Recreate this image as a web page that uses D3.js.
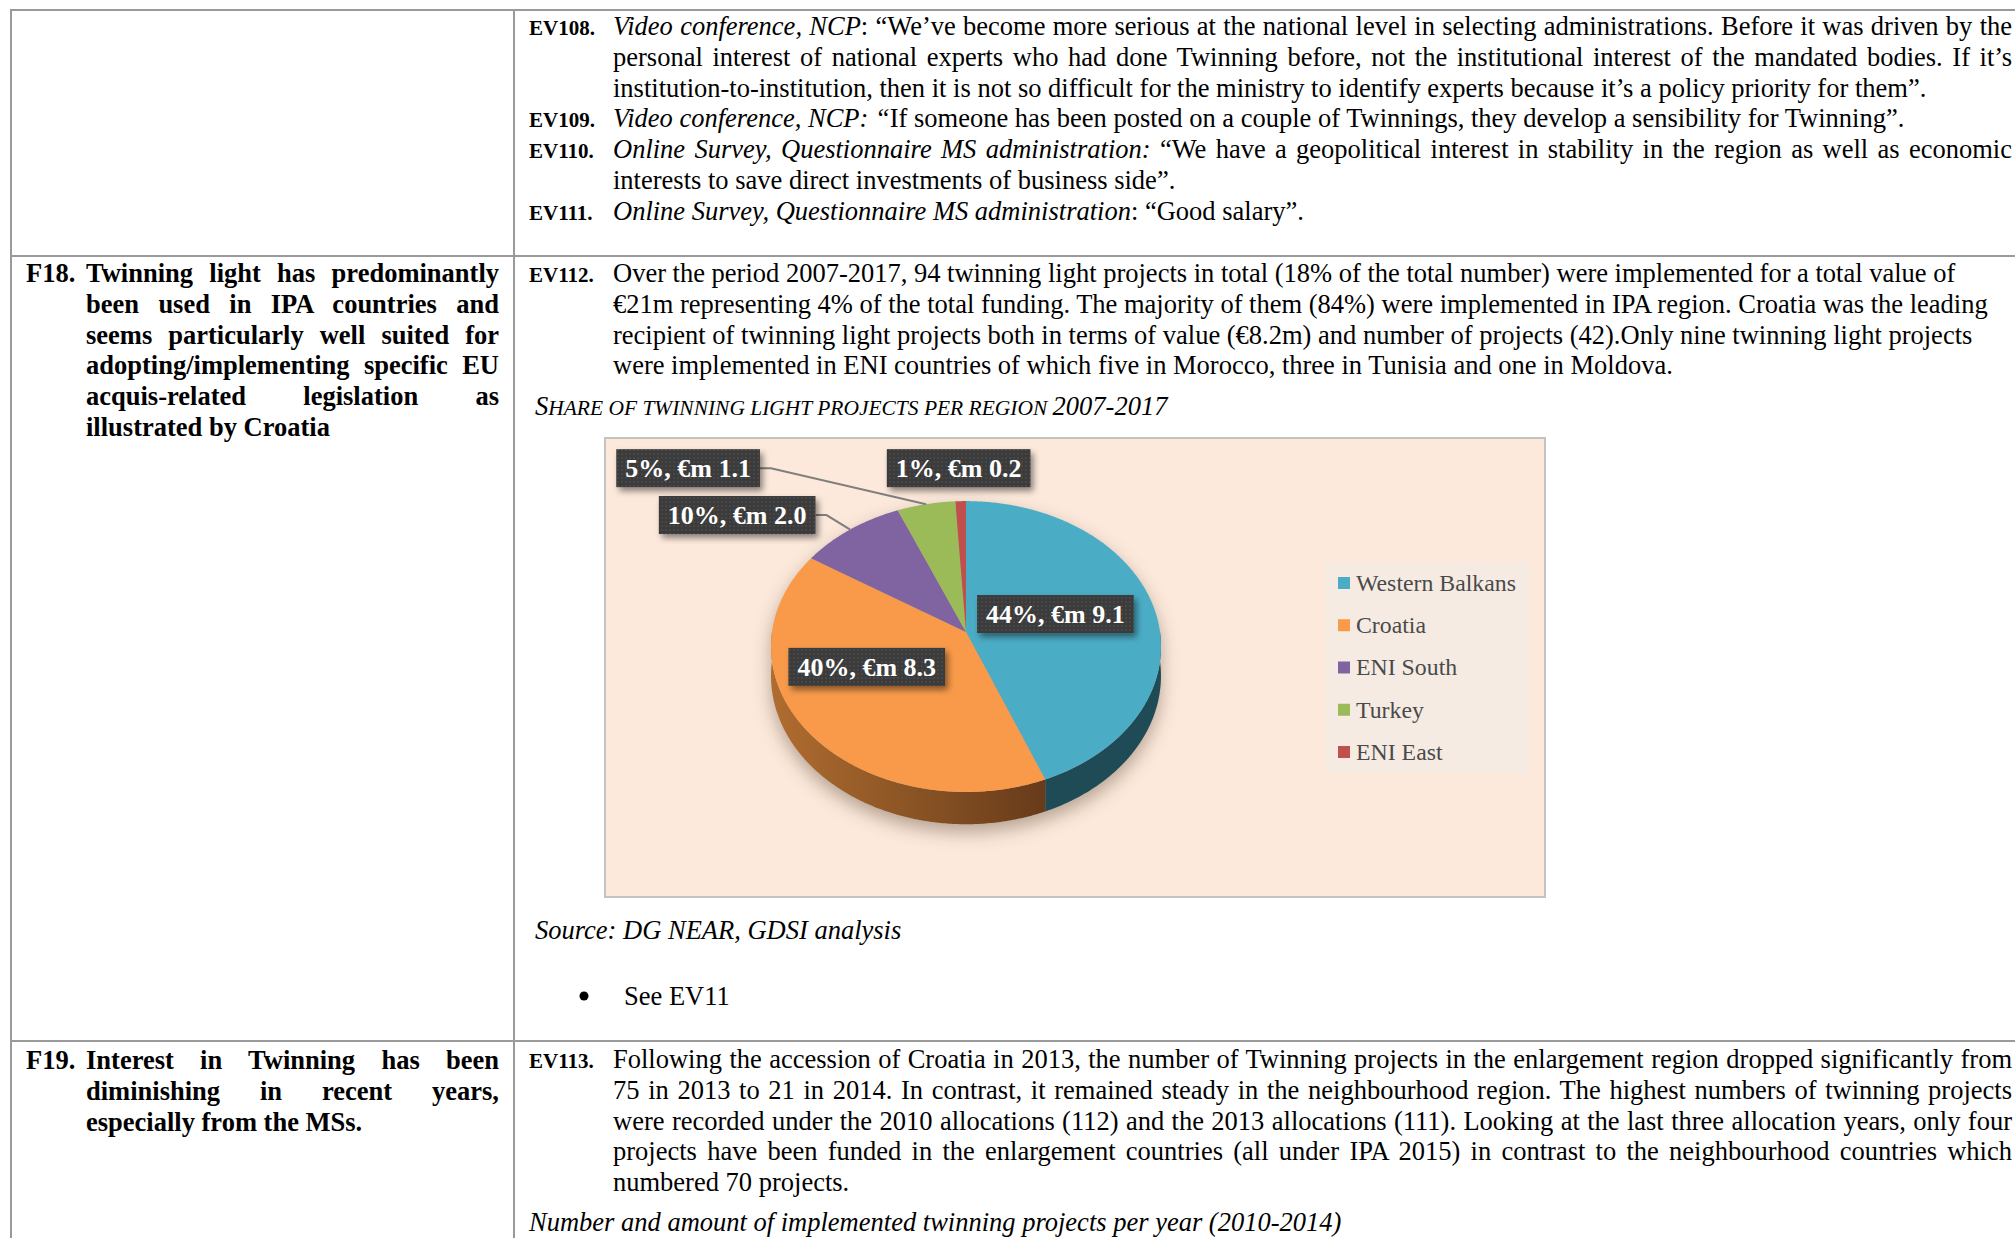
<!DOCTYPE html>
<html>
<head>
<meta charset="utf-8">
<script src="https://cdn.jsdelivr.net/npm/d3@7"></script>
<style>
  html, body { margin: 0; padding: 0; background: #fff; }
  svg { display: block; }
  text { font-family: "Liberation Serif", "Times New Roman", serif; white-space: pre; }
</style>
</head>
<body>
<div id="page"></div>
<script>
// ---- chart data ----
const regions = ["Western Balkans", "Croatia", "ENI South", "Turkey", "ENI East"];
const amounts = [9.1, 8.3, 2.0, 1.1, 0.2];          // €m
const sliceColors = ["#4bacc6", "#f89a4a", "#8064a2", "#9bbb59", "#c0504d"];
const sideColors = ["#1f4b57", "url(#orangeSide)", "#4a3a5e", "#5a6e33", "#702f2d"];

// label placement: inside labels sit near the slice centroid, outside ones hang off the rim
const labelLayout = [
    { anchor: "inside", dx: -5, dy: -4.5 },
    { anchor: "inside", dx: -22, dy: -12.5 },
    { anchor: "rim", dx: -113, dy: -14.5, leader: true },
    { anchor: "rim", dx: -238, dy: -36, leader: true },
    { anchor: "rim", dx: -2, dy: -33, leader: false }
];

// ---- document text ----
const row1Lines = [
    { label: "EV108.", parts: [["i", "Video conference, NCP"], ["r", ": “We’ve become more serious at the national level in selecting administrations. Before it was driven by the"]], justify: true },
    { parts: [["r", "personal interest of national experts who had done Twinning before, not the institutional interest of the mandated bodies. If it’s"]], justify: true },
    { parts: [["r", "institution-to-institution, then it is not so difficult for the ministry to identify experts because it’s a policy priority for them”."]] },
    { label: "EV109.", parts: [["i", "Video conference, NCP: “"], ["r", "If someone has been posted on a couple of Twinnings, they develop a sensibility for Twinning”."]] },
    { label: "EV110.", parts: [["i", "Online Survey, Questionnaire MS administration:"], ["r", " “We have a geopolitical interest in stability in the region as well as economic"]], justify: true },
    { parts: [["r", "interests to save direct investments of business side”."]] },
    { label: "EV111.", parts: [["i", "Online Survey, Questionnaire MS administration"], ["r", ": “Good salary”."]] }
];
const f18Lines = [
    "Twinning light has predominantly",
    "been used in IPA countries and",
    "seems particularly well suited for",
    "adopting/implementing specific EU",
    "acquis-related legislation as",
    "illustrated by Croatia"
];
const ev112Lines = [
    "Over the period 2007-2017, 94 twinning light projects in total (18% of the total number) were implemented for a total value of",
    "€21m representing 4% of the total funding. The majority of them (84%) were implemented in IPA region. Croatia was the leading",
    "recipient of twinning light projects both in terms of value (€8.2m) and number of projects (42).Only nine twinning light projects",
    "were implemented in ENI countries of which five in Morocco, three in Tunisia and one in Moldova."
];
const f19Lines = [
    "Interest in Twinning has been",
    "diminishing in recent years,",
    "especially from the MSs."
];
const ev113Lines = [
    "Following the accession of Croatia in 2013, the number of Twinning projects in the enlargement region dropped significantly from",
    "75 in 2013 to 21 in 2014. In contrast, it remained steady in the neighbourhood region. The highest numbers of twinning projects",
    "were recorded under the 2010 allocations (112) and the 2013 allocations (111). Looking at the last three allocation years, only four",
    "projects have been funded in the enlargement countries (all under IPA 2015) in contrast to the neighbourhood countries which",
    "numbered 70 projects."
];

// ---- page setup ----
const W = 2015, H = 1238;
const svg = d3.select("#page").append("svg").attr("width", W).attr("height", H);
const defs = svg.append("defs");

const bodySize = 26.5, lineGap = 30.8;
const labelX = 529, bodyX = 613, bodyRight = 2012;
const leftNumX = 26, leftX = 86, leftRight = 499;

// Draws one line of text; stretches word spacing when the line is justified
function textLine(g, x, y, parts, opts) {
    const t = g.append("text")
        .attr("x", x)
        .attr("y", y)
        .attr("font-size", opts.size || bodySize)
        .attr("font-weight", opts.bold ? "bold" : null)
        .attr("fill", "#000");
    parts.forEach(p => {
        t.append("tspan")
            .attr("font-style", p[0] === "i" ? "italic" : null)
            .text(p[1]);
    });
    if (opts.right) {
        const natural = t.node().getComputedTextLength();
        const gaps = (parts.map(p => p[1]).join("").match(/ /g) || []).length;
        if (gaps) t.style("word-spacing", ((opts.right - x - natural) / gaps) + "px");
    }
    return t;
}

const doc = svg.append("g");

// Table rules
const rules = doc.append("g").attr("stroke", "#9a9a9a").attr("stroke-width", 2);
rules.append("line").attr("x1", 11).attr("x2", W).attr("y1", 10).attr("y2", 10);
rules.append("line").attr("x1", 11).attr("x2", 11).attr("y1", 9).attr("y2", H);
rules.append("line").attr("x1", 514).attr("x2", 514).attr("y1", 9).attr("y2", H);
rules.append("line").attr("x1", 11).attr("x2", W).attr("y1", 256).attr("y2", 256);
rules.append("line").attr("x1", 11).attr("x2", W).attr("y1", 1041).attr("y2", 1041);

// Row 1 – evidence EV108-EV111
row1Lines.forEach((l, i) => {
    const y = 35 + i * lineGap;
    if (l.label) textLine(doc, labelX, y, [["r", l.label]], { bold: true, size: 21 });
    textLine(doc, bodyX, y, l.parts, { right: l.justify ? bodyRight : null });
});

// Row 2 – finding F18
textLine(doc, leftNumX, 282, [["r", "F18."]], { bold: true });
f18Lines.forEach((s, i) => {
    textLine(doc, leftX, 282 + i * lineGap, [["r", s]], { bold: true, right: i < f18Lines.length - 1 ? leftRight : null });
});
textLine(doc, labelX, 282, [["r", "EV112."]], { bold: true, size: 21 });
ev112Lines.forEach((s, i) => textLine(doc, bodyX, 282 + i * lineGap, [["r", s]], {}));

// chart caption in Word-style small caps
const cap = doc.append("text")
    .attr("x", 535).attr("y", 415)
    .attr("font-size", bodySize)
    .attr("font-style", "italic");
cap.append("tspan").text("S");
cap.append("tspan").attr("font-size", bodySize * 0.81).text("HARE OF TWINNING LIGHT PROJECTS PER REGION ");
cap.append("tspan").text("2007-2017");

textLine(doc, 535, 939, [["i", "Source: DG NEAR, GDSI analysis"]], {});
doc.append("circle").attr("cx", 584).attr("cy", 996).attr("r", 4.5).attr("fill", "#000");
textLine(doc, 624, 1005, [["r", "See EV11"]], {});

// Row 3 – finding F19
textLine(doc, leftNumX, 1069, [["r", "F19."]], { bold: true });
f19Lines.forEach((s, i) => {
    textLine(doc, leftX, 1069 + i * lineGap, [["r", s]], { bold: true, right: i < f19Lines.length - 1 ? leftRight : null });
});
textLine(doc, labelX, 1068, [["r", "EV113."]], { bold: true, size: 21 });
ev113Lines.forEach((s, i) => {
    textLine(doc, bodyX, 1068 + i * lineGap, [["r", s]], { right: i < ev113Lines.length - 1 ? bodyRight : null });
});
textLine(doc, 529, 1231, [["i", "Number and amount of implemented twinning projects per year (2010-2014)"]], {});

// ---- pie chart ----
const box = { x: 605, y: 438, w: 940, h: 459 };
const chart = svg.append("g");

chart.append("rect")
    .attr("x", box.x).attr("y", box.y)
    .attr("width", box.w).attr("height", box.h)
    .attr("fill", "#fce9db")
    .attr("stroke", "#c3c3c3")
    .attr("stroke-width", 2);

// 3D projection of the tilted disc (with a touch of perspective)
const cx = 966, cy = 632, rx = 194, ry = 144, persp = 0.1, depth = 29;
function proj(theta, r, down) {
    const X = r * Math.sin(theta), Z = -r * Math.cos(theta);
    const s = 1 / (1 - persp * Z);
    return [cx + rx * X * s, cy + ry * Z * s + (down || 0) * s];
}
function rimPoints(a0, a1, down) {
    const n = Math.max(2, Math.ceil((a1 - a0) / 0.01));
    return d3.range(n + 1).map(k => proj(a0 + (a1 - a0) * k / n, 1, down));
}
const closedLine = d3.line().curve(d3.curveLinearClosed);

const pie = d3.pie().sort(null).value(d => d)(amounts);
const total = d3.sum(amounts);

// filters / gradients
const orangeGrad = defs.append("linearGradient")
    .attr("id", "orangeSide")
    .attr("gradientUnits", "userSpaceOnUse")
    .attr("x1", cx - rx).attr("x2", cx + rx * 0.45).attr("y1", 0).attr("y2", 0);
orangeGrad.append("stop").attr("offset", 0).attr("stop-color", "#b06c30");
orangeGrad.append("stop").attr("offset", 0.5).attr("stop-color", "#8a5424");
orangeGrad.append("stop").attr("offset", 1).attr("stop-color", "#65391a");

const shadowF = defs.append("filter").attr("id", "pieShadow")
    .attr("x", "-20%").attr("y", "-20%").attr("width", "140%").attr("height", "140%");
shadowF.append("feGaussianBlur").attr("stdDeviation", 9);

const labelShadow = defs.append("filter").attr("id", "labelShadow")
    .attr("x", "-20%").attr("y", "-30%").attr("width", "150%").attr("height", "170%");
labelShadow.append("feDropShadow")
    .attr("dx", 3).attr("dy", 4).attr("stdDeviation", 3)
    .attr("flood-color", "#000").attr("flood-opacity", 0.45);

const dots = defs.append("pattern").attr("id", "dots")
    .attr("width", 4).attr("height", 4).attr("patternUnits", "userSpaceOnUse");
dots.append("rect").attr("width", 4).attr("height", 4).attr("fill", "#3a3a3a");
dots.append("circle").attr("cx", 2).attr("cy", 2).attr("r", 0.8).attr("fill", "#565656");

// soft shadow under the whole pie
const shadow = chart.append("g")
    .attr("filter", "url(#pieShadow)")
    .attr("transform", "translate(0,8)")
    .attr("opacity", 0.5);
shadow.append("path").attr("d", closedLine(rimPoints(0, 2 * Math.PI, 0))).attr("fill", "#6e5c4c");
shadow.append("path")
    .attr("d", closedLine(rimPoints(Math.PI / 2, 3 * Math.PI / 2, 0).concat(rimPoints(Math.PI / 2, 3 * Math.PI / 2, depth).reverse())))
    .attr("fill", "#6e5c4c");

// front wall of each slice
chart.append("g").selectAll("path")
    .data(pie)
    .join("path")
    .attr("d", d => {
        const a0 = Math.max(d.startAngle, Math.PI / 2), a1 = Math.min(d.endAngle, 3 * Math.PI / 2);
        if (a0 >= a1) return null;
        return closedLine(rimPoints(a0, a1, 0).concat(rimPoints(a0, a1, depth).reverse()));
    })
    .attr("fill", (d, i) => sideColors[i]);

// top faces
chart.append("g").selectAll("path")
    .data(pie)
    .join("path")
    .attr("d", d => closedLine([[cx, cy]].concat(rimPoints(d.startAngle, d.endAngle, 0))))
    .attr("fill", (d, i) => sliceColors[i]);

// data labels
const pctFmt = d3.format(".0%");
const labels = chart.append("g");
pie.forEach((d, i) => {
    const lay = labelLayout[i];
    const mid = (d.startAngle + d.endAngle) / 2;
    const p = lay.anchor === "inside" ? proj(mid, 0.5, 0) : proj(mid, 1, 0);
    const lx = p[0] + lay.dx, ly = p[1] + lay.dy;
    const g = labels.append("g");
    const t = g.append("text")
        .attr("x", lx).attr("y", ly)
        .attr("dy", "0.34em")
        .attr("text-anchor", "middle")
        .attr("font-size", 26)
        .attr("font-weight", "bold")
        .attr("fill", "#fff")
        .text(pctFmt(d.data / total) + ", €m " + d3.format(".1f")(d.data));
    const tw = t.node().getComputedTextLength();
    const bw = tw + 18, bh = 38;
    if (lay.leader) {
        g.insert("polyline", "text")
            .attr("points", [[lx + bw / 2, ly], [lx + bw / 2 + 11, ly], p].map(q => q.join(",")).join(" "))
            .attr("fill", "none")
            .attr("stroke", "#7f7f7f")
            .attr("stroke-width", 2);
    }
    g.insert("rect", "text")
        .attr("x", lx - bw / 2).attr("y", ly - bh / 2)
        .attr("width", bw).attr("height", bh)
        .attr("fill", "url(#dots)")
        .attr("filter", "url(#labelShadow)");
});

// legend
const legend = chart.append("g");
legend.append("rect")
    .attr("x", 1326).attr("y", 562)
    .attr("width", 203).attr("height", 211)
    .attr("fill", "#f6ebe3");
const legendY = d3.scalePoint().domain(regions).range([583, 752]);
regions.forEach((r, i) => {
    legend.append("rect")
        .attr("x", 1338).attr("y", legendY(r) - 6)
        .attr("width", 12).attr("height", 12)
        .attr("fill", sliceColors[i]);
    legend.append("text")
        .attr("x", 1356).attr("y", legendY(r))
        .attr("dy", "0.33em")
        .attr("font-size", 23.8)
        .attr("fill", "#4a4a4a")
        .text(r);
});
</script>
</body>
</html>
